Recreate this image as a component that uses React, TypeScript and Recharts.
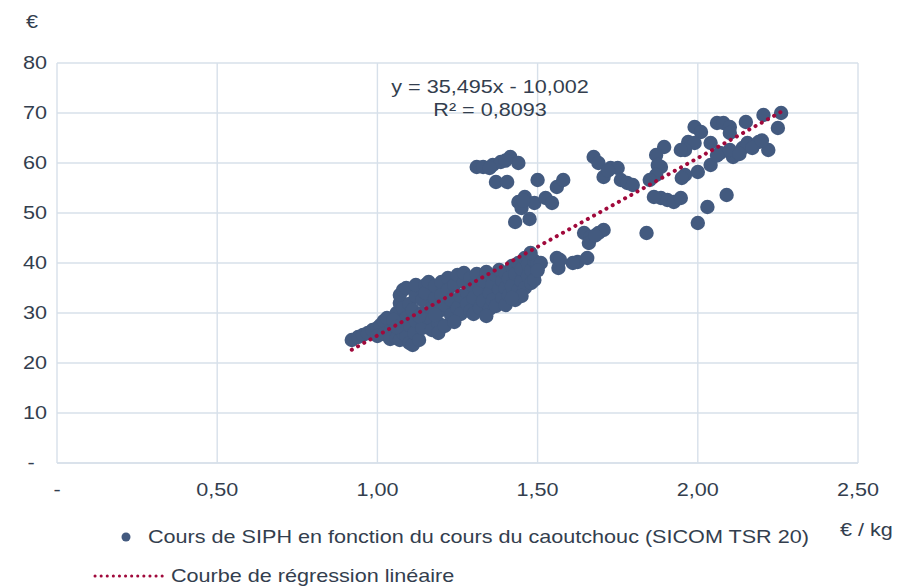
import React from 'react';
import { ScatterChart, Scatter, XAxis, YAxis, CartesianGrid } from 'recharts';

// Rubber price (SICOM TSR 20, €/kg) and matching SIPH share price (€)
const rubberPrices = [
  // lower dense cluster
  0.92, 0.94, 0.955, 0.97, 0.985, 1.0, 1.01, 1.02, 1.03, 1.0, 1.02, 1.04, 1.04, 1.06, 1.055, 1.07, 1.08, 1.09,
  1.06, 1.07, 1.07, 1.08, 1.09, 1.08, 1.09, 1.1, 1.1, 1.1, 1.11, 1.115, 1.12, 1.12, 1.12, 1.11,
  1.13, 1.14, 1.14, 1.14, 1.15, 1.15, 1.16, 1.16, 1.17, 1.17, 1.18, 1.18, 1.19, 1.19, 1.2, 1.2, 1.2, 1.21, 1.21,
  1.22, 1.22, 1.23, 1.23, 1.24, 1.25, 1.25, 1.26, 1.26, 1.27, 1.27, 1.28, 1.28, 1.29, 1.29, 1.3, 1.3, 1.3,
  1.31, 1.32, 1.32, 1.33, 1.33, 1.34, 1.35, 1.35, 1.36, 1.36, 1.37, 1.37, 1.38, 1.38, 1.39, 1.39, 1.4, 1.4, 1.4,
  1.41, 1.41, 1.42, 1.42, 1.43, 1.43, 1.44, 1.44, 1.45, 1.45, 1.46, 1.46, 1.47, 1.47, 1.48, 1.48, 1.49, 1.5, 1.45, 1.42,
  1.05, 1.06, 1.13, 1.24, 1.34, 1.18,
  // right edge of cluster
  1.5, 1.49, 1.51, 1.478, 1.5,
  // 1.55 - 1.72, 38 - 46
  1.56, 1.565, 1.625, 1.655, 1.645, 1.665, 1.69, 1.706, 1.66, 1.61, 1.57, 1.68,
  // 1.43 - 1.55, 48 - 53
  1.44, 1.46, 1.45, 1.49, 1.525, 1.545, 1.43, 1.475, 1.455,
  // 1.3 - 1.45, 56 - 61
  1.31, 1.33, 1.36, 1.385, 1.415, 1.44, 1.37, 1.405, 1.4, 1.35,
  // 1.5 - 1.6, 55 - 57
  1.5, 1.56, 1.58,
  // 1.65 - 1.8, 55 - 62
  1.675, 1.69, 1.706, 1.728, 1.75, 1.76, 1.78, 1.797, 1.72,
  // upper right
  1.99, 2.01, 1.97, 1.99, 1.96, 2.04, 2.06, 2.08, 2.1, 2.1, 2.07, 2.11, 2.14, 2.155, 2.19, 2.22, 2.15, 2.205, 2.26, 2.25,
  2.0, 2.04, 1.96, 2.1, 2.13, 2.09, 2.03, 2.0, 1.895, 1.885, 1.95, 1.947, 1.87, 1.875, 1.87, 1.85, 1.885, 1.905, 1.925,
  1.947, 1.863, 1.84, 2.06, 2.17, 2.2,
];

const siphPrices = [
  24.6, 25.2, 25.6, 26, 26.6, 27, 27.6, 28.4, 29, 25.4, 25.8, 26.4, 24.8, 25, 27.8, 24.6, 26, 25.4,
  30, 32, 33.6, 34.6, 35, 31, 29, 27.6, 31.8, 24, 23.6, 26, 28.4, 33.4, 35.6, 30.6,
  24.6, 27, 30, 32.6, 35.6, 34, 36.2, 29, 31, 26.6, 33, 35.4, 28, 26, 30.6, 36.2, 33.6, 27.4, 31.6,
  37, 34.6, 29.6, 32.6, 35.6, 37.6, 31, 33.4, 29.8, 36.2, 38, 34, 31.8, 37, 30.4, 35.4, 33, 29.8,
  37.8, 31, 34.6, 36.4, 32.4, 38.2, 30.8, 34, 36, 32.6, 37.6, 31.4, 34.8, 38.6, 33, 36.4, 31.6, 35, 38,
  33.6, 37, 39.4, 35.4, 32.6, 37.8, 34.6, 40, 36.4, 38.8, 41, 35, 37.4, 39.8, 36, 38.6, 40.4, 39, 33.4, 33,
  28.6, 27.2, 29.4, 28.2, 29.4, 29.6,
  40, 36.6, 40, 42, 38.5,
  41, 39, 40.2, 41, 46, 45.2, 46, 46.6, 44, 40, 40.6, 45.5,
  52.2, 53.2, 51, 52, 53, 52, 48.2, 48.8, 52.5,
  59.2, 59.2, 59.6, 60.2, 61.2, 60, 56.2, 56.2, 60.5, 59,
  56.6, 55.2, 56.6,
  61.2, 60, 57.2, 59, 59, 56.6, 56, 55.6, 58.5,
  67.2, 66.2, 64.2, 64, 62.6, 64, 68, 68, 67.2, 66, 62, 61.2, 63, 64, 64.2, 62.6, 68.2, 69.6, 70, 67,
  58.2, 59.6, 57.6, 62.6, 61.8, 53.6, 51.2, 48, 63.2, 59.2, 57, 62.6, 61.6, 59.6, 57.6, 56.6, 53, 52.6, 52.2,
  53, 53.2, 46, 61.5, 63, 64.5,
];

// Linear regression line y = 35,495x - 10,002 (end points)
const trendX = [0.92, 2.27];
const trendY = [22.65, 70.57];

const xTicks = [0, 0.5, 1, 1.5, 2, 2.5];
const xTickLabels = ['-', '0,50', '1,00', '1,50', '2,00', '2,50'];
const yTicks = [0, 10, 20, 30, 40, 50, 60, 70, 80];
const yTickLabels = ['-', '10', '20', '30', '40', '50', '60', '70', '80'];

const equationText = 'y = 35,495x - 10,002';
const r2Text = 'R² = 0,8093';
const seriesName = 'Cours de SIPH en fonction du cours du caoutchouc (SICOM TSR 20)';
const trendName = 'Courbe de régression linéaire';
const yUnit = '€';
const xUnit = '€ / kg';

const pointData = rubberPrices.map((x, i) => ({ x, y: siphPrices[i] }));
const trendData = trendX.map((x, i) => ({ x, y: trendY[i] }));

const DOT = '#435A7F';
const TREND = '#A0093B';
const GRID = '#D7E0EA';
const TXT = '#333E4E';
const FONT = '"Liberation Sans", Arial, sans-serif';
const FS = 18;
const SX = 1.2;

const SText = ({ x, y, anchor = 'start', children }: any) => (
  <text
    transform={`translate(${x} ${y}) scale(${SX} 1)`}
    textAnchor={anchor}
    fontSize={FS}
    fontFamily={FONT}
    fill={TXT}
  >
    {children}
  </text>
);

const XTick = (props: any) => {
  const { x, payload } = props;
  const i = xTicks.indexOf(payload.value);
  return <SText x={x} y={496} anchor="middle">{xTickLabels[i]}</SText>;
};

const YTick = (props: any) => {
  const { y, payload } = props;
  const i = yTicks.indexOf(payload.value);
  if (payload.value === 0) {
    return <SText x={31} y={y + 6} anchor="middle">{yTickLabels[i]}</SText>;
  }
  return <SText x={47} y={y + 6} anchor="end">{yTickLabels[i]}</SText>;
};

const Dot = (props: any) => <circle cx={props.cx} cy={props.cy} r={7.2} fill={DOT} />;
const NoDot = () => <g />;

export default function App() {
  return (
    <div style={{ position: 'absolute', left: 0, top: 0, width: 901, height: 588, background: '#fff' }}>
      <ScatterChart width={901} height={588} margin={{ top: 63, right: 43, bottom: 0, left: 0 }}>
        <CartesianGrid stroke={GRID} strokeWidth={1.4} vertical horizontal />
        <XAxis
          dataKey="x"
          type="number"
          domain={[0, 2.5]}
          ticks={xTicks}
          interval={0}
          height={125}
          tickLine={false}
          axisLine={{ stroke: GRID, strokeWidth: 1.6 }}
          tick={<XTick />}
        />
        <YAxis
          dataKey="y"
          type="number"
          domain={[0, 80]}
          ticks={yTicks}
          interval={0}
          width={57}
          tickLine={false}
          axisLine={false}
          tick={<YTick />}
        />
        <Scatter data={pointData} fill={DOT} shape={<Dot />} isAnimationActive={false} />
        <Scatter
          data={trendData}
          fill={TREND}
          shape={<NoDot />}
          line={{ stroke: TREND, strokeWidth: 4, strokeDasharray: '0.1 7', strokeLinecap: 'round' }}
          isAnimationActive={false}
        />
      </ScatterChart>
      <svg
        width={901}
        height={588}
        style={{ position: 'absolute', left: 0, top: 0, pointerEvents: 'none' }}
      >
        <SText x={32} y={28} anchor="middle">{yUnit}</SText>
        <SText x={490} y={93} anchor="middle">{equationText}</SText>
        <SText x={490} y={116} anchor="middle">{r2Text}</SText>
        <SText x={840} y={536}>{xUnit}</SText>
        <circle cx={126} cy={537} r={4.5} fill={DOT} />
        <SText x={148} y={543}>{seriesName}</SText>
        <line
          x1={95}
          y1={576}
          x2={163}
          y2={576}
          stroke={TREND}
          strokeWidth={3}
          strokeDasharray="0.1 6"
          strokeLinecap="round"
        />
        <SText x={171} y={582}>{trendName}</SText>
      </svg>
    </div>
  );
}
